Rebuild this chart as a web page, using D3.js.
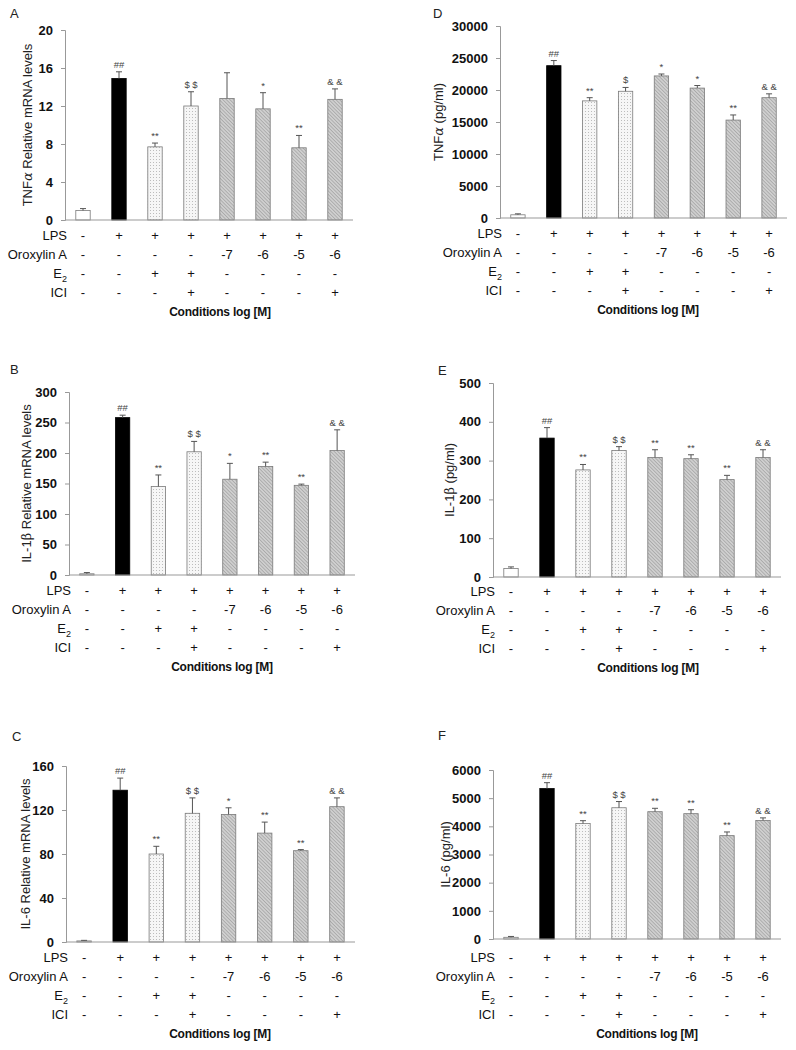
<!DOCTYPE html>
<html><head><meta charset="utf-8">
<script src="https://cdn.jsdelivr.net/npm/d3@7"></script>
<style>body{margin:0;background:#fff}svg{display:block}text{font-family:"Liberation Sans",Arial,sans-serif}</style>
</head><body><svg id="c" width="796" height="1050"></svg>
<script>
// ---- data ----
const rowNames = ["LPS","Oroxylin A","E2","ICI"];
const lpsRow   = ["-","+","+","+","+","+","+","+"];
const oroRow   = ["-","-","-","-","-7","-6","-5","-6"];
const e2Row    = ["-","-","+","+","-","-","-","-"];
const iciRow   = ["-","-","-","+","-","-","-","+"];
const barStyle = ["white","black","dots","dots","hatch","hatch","hatch","hatch"];

const tnfMrna    = [1.0, 14.9, 7.7, 12.0, 12.8, 11.7, 7.6, 12.7];
const tnfMrnaErr = [0.2, 0.7, 0.4, 1.5, 2.7, 1.7, 1.3, 1.1];
const tnfMrnaSig = ["", "##", "**", "$ $", "", "*", "**", "& &"];
const tnfMrnaTicks = [0,4,8,12,16,20];

const tnfPg    = [500, 23800, 18300, 19800, 22200, 20300, 15300, 18800];
const tnfPgErr = [150, 800, 500, 600, 300, 400, 800, 600];
const tnfPgSig = ["", "##", "**", "$", "*", "*", "**", "& &"];
const tnfPgTicks = [0,5000,10000,15000,20000,25000,30000];

const il1Mrna    = [2, 258, 145, 202, 157, 178, 147, 204];
const il1MrnaErr = [2, 4, 19, 17, 26, 7, 2, 34];
const il1MrnaSig = ["", "##", "**", "$ $", "*", "**", "**", "& &"];
const il1MrnaTicks = [0,50,100,150,200,250,300];

const il1Pg    = [22, 358, 276, 326, 308, 305, 251, 308];
const il1PgErr = [4, 27, 14, 10, 20, 10, 11, 20];
const il1PgSig = ["", "##", "**", "$ $", "**", "**", "**", "& &"];
const il1PgTicks = [0,100,200,300,400,500];

const il6Mrna    = [1, 138, 80, 117, 116, 99, 83, 123];
const il6MrnaErr = [0.5, 11, 7, 14, 6, 10, 1, 8];
const il6MrnaSig = ["", "##", "**", "$ $", "*", "**", "**", "& &"];
const il6MrnaTicks = [0,40,80,120,160];

const il6Pg    = [60, 5340, 4100, 4660, 4520, 4450, 3670, 4210];
const il6PgErr = [30, 210, 100, 220, 120, 140, 130, 90];
const il6PgSig = ["", "##", "**", "$ $", "**", "**", "**", "& &"];
const il6PgTicks = [0,1000,2000,3000,4000,5000,6000];

// ---- layout ----
const panels = [
  {letter:"A", lx:10, ly:18, x0:65, x1:353, yTop:30, y0:220, ticks:tnfMrnaTicks, vals:tnfMrna, err:tnfMrnaErr, sig:tnfMrnaSig, title:["TNF","α"," Relative mRNA levels"], tx:27, rowY:235, condX:220},
  {letter:"D", lx:433, ly:18, x0:500, x1:787, yTop:26, y0:218, ticks:tnfPgTicks, vals:tnfPg, err:tnfPgErr, sig:tnfPgSig, title:["TNF","α","  (pg/ml)"], tx:438, rowY:233, condX:648},
  {letter:"B", lx:10, ly:374, x0:69, x1:355, yTop:392, y0:575, ticks:il1MrnaTicks, vals:il1Mrna, err:il1MrnaErr, sig:il1MrnaSig, title:["IL-1","β"," Relative mRNA levels"], tx:26, rowY:590, condX:222},
  {letter:"E", lx:438, ly:375, x0:493, x1:781, yTop:383, y0:577, ticks:il1PgTicks, vals:il1Pg, err:il1PgErr, sig:il1PgSig, title:["IL-1","β"," (pg/ml)"], tx:449, rowY:591, condX:648},
  {letter:"C", lx:12, ly:741, x0:66, x1:355, yTop:766, y0:942, ticks:il6MrnaTicks, vals:il6Mrna, err:il6MrnaErr, sig:il6MrnaSig, title:["IL-6 Relative mRNA levels"], tx:25, rowY:957, condX:220},
  {letter:"F", lx:438, ly:740, x0:493, x1:781, yTop:770, y0:939, ticks:il6PgTicks, vals:il6Pg, err:il6PgErr, sig:il6PgSig, title:["IL-6 (pg/ml)"], tx:445, rowY:957, condX:647}
];

const svg = d3.select("#c");
const defs = svg.append("defs");
const pd = defs.append("pattern").attr("id","dots").attr("patternUnits","userSpaceOnUse").attr("width",3).attr("height",3);
pd.append("rect").attr("width",3).attr("height",3).attr("fill","#f6f6f6");
pd.append("rect").attr("x",0).attr("y",0).attr("width",1).attr("height",1).attr("fill","#bcbcbc");
const ph = defs.append("pattern").attr("id","hatch").attr("patternUnits","userSpaceOnUse").attr("width",2.5).attr("height",2.5).attr("patternTransform","rotate(45)");
ph.append("rect").attr("width",2.5).attr("height",2.5).attr("fill","#cfcfcf");
ph.append("line").attr("x1",0).attr("y1",0).attr("x2",2.5).attr("y2",0).attr("stroke","#9a9a9a").attr("stroke-width",1.2);

const fillFor = s => s==="white" ? "#fff" : s==="black" ? "#000" : s==="dots" ? "url(#dots)" : "url(#hatch)";
const rows = [lpsRow, oroRow, e2Row, iciRow];

panels.forEach(p => {
  const g = svg.append("g");
  const x = d3.scaleBand().domain(d3.range(8)).range([p.x0, p.x1]).paddingInner(0.6).paddingOuter(0.3);
  const y = d3.scaleLinear().domain([0, p.ticks[p.ticks.length-1]]).range([p.y0, p.yTop]);

  g.append("text").attr("x",p.lx).attr("y",p.ly).attr("font-size",13).attr("fill","#222").text(p.letter);

  // y axis
  const ax = g.append("g").attr("transform",`translate(${p.x0},0)`)
    .call(d3.axisLeft(y).tickValues(p.ticks).tickSize(4).tickPadding(8).tickFormat(d3.format("d")));
  ax.select(".domain").attr("stroke","#999");
  ax.selectAll(".tick line").attr("stroke","#999");
  ax.selectAll(".tick text").attr("font-size",13).attr("font-weight","bold").attr("fill","#111").attr("font-family","Liberation Sans, Arial, sans-serif");

  // bars
  g.selectAll(".bar").data(p.vals).join("rect")
    .attr("x",(d,i)=>x(i)).attr("width",x.bandwidth())
    .attr("y",d=>y(d)).attr("height",d=>p.y0-y(d))
    .attr("fill",(d,i)=>fillFor(barStyle[i]))
    .attr("stroke",(d,i)=>barStyle[i]==="black"?"#000":"#7a7a7a").attr("stroke-width",0.8);

  // error bars
  p.vals.forEach((v,i)=>{
    const cx = x(i)+x.bandwidth()/2;
    const yt = y(v+p.err[i]);
    g.append("line").attr("x1",cx).attr("x2",cx).attr("y1",y(v)).attr("y2",yt).attr("stroke","#555").attr("stroke-width",1);
    g.append("line").attr("x1",cx-3).attr("x2",cx+3).attr("y1",yt).attr("y2",yt).attr("stroke","#555").attr("stroke-width",1);
    if (p.sig[i]) g.append("text").attr("x",cx).attr("y",yt-4).attr("text-anchor","middle")
      .attr("font-size",9.5).attr("fill","#444").text(p.sig[i]);
  });

  // x axis line
  g.append("line").attr("x1",p.x0).attr("x2",p.x1).attr("y1",p.y0).attr("y2",p.y0).attr("stroke","#999");

  // y title
  const tt = g.append("text").attr("transform",`translate(${p.tx},${(p.yTop+p.y0)/2}) rotate(-90)`)
    .attr("text-anchor","middle").attr("dy","0.35em").attr("font-size",13).attr("fill","#222");
  p.title.forEach(s=>{
    const t = tt.append("tspan").text(s);
    if (s==="α"||s==="β") t.attr("font-family","DejaVu Serif, serif").attr("font-style", s==="α"?"italic":"normal");
  });

  // condition table
  rowNames.forEach((rn,r)=>{
    const ry = p.rowY + r*19.3;
    const lt = g.append("text").attr("x",p.x0+2).attr("y",ry).attr("dy","0.35em").attr("text-anchor","end")
      .attr("font-size",13).attr("fill","#111");
    if (rn==="E2") { lt.append("tspan").text("E"); lt.append("tspan").attr("font-size",9).attr("dy","0.4em").text("2"); }
    else lt.text(rn);
    rows[r].forEach((s,i)=>{
      g.append("text").attr("x",x(i)+x.bandwidth()/2).attr("y",ry).attr("dy","0.35em").attr("text-anchor","middle")
        .attr("font-size",13).attr("fill","#111").text(s);
    });
  });
  g.append("text").attr("x",p.condX).attr("y",p.rowY+4*19.3-0.5).attr("dy","0.35em").attr("text-anchor","middle")
    .attr("font-size",12).attr("font-weight","bold").attr("fill","#111").attr("letter-spacing","-0.2").text("Conditions log [M]");
});
</script></body></html>
